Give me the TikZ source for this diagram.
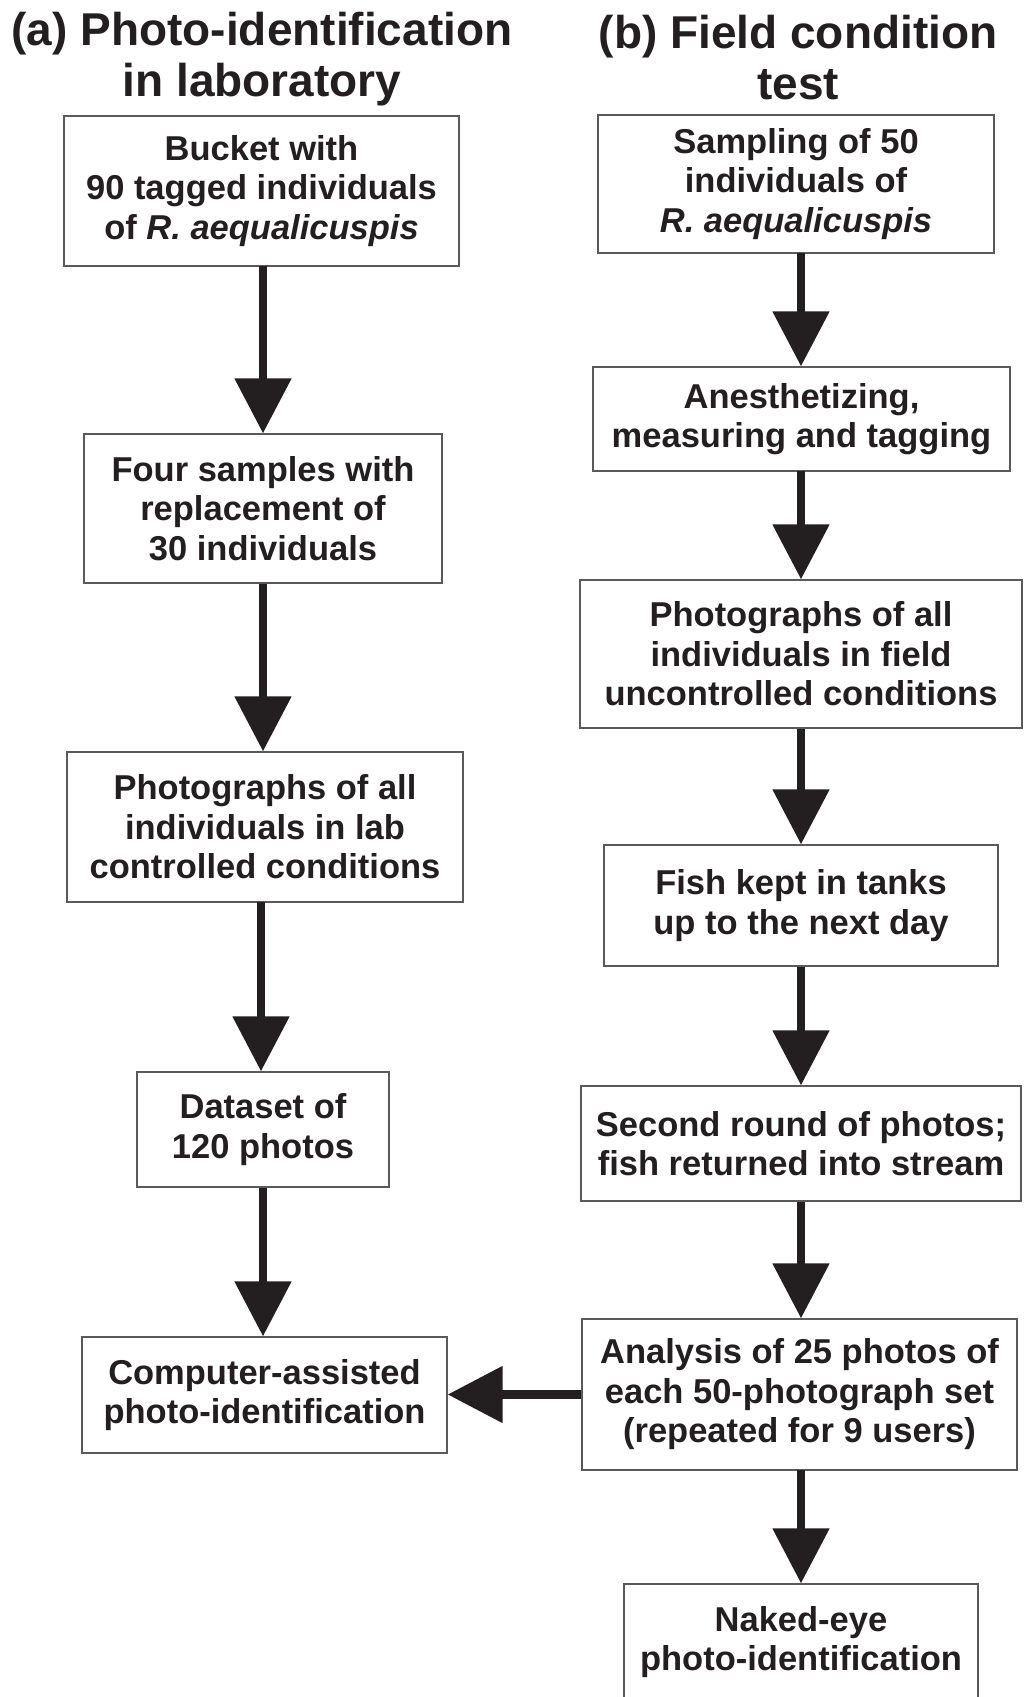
\documentclass[tikz,border=0pt]{standalone}
\usepackage{fontspec}
\setmainfont{Liberation Sans}
\usetikzlibrary{arrows.meta}
\definecolor{ink}{HTML}{231F20}
\definecolor{edge}{HTML}{5A5A5A}
\begin{document}
\begin{tikzpicture}[x=1pt,y=-1pt,
  box/.style={draw=edge, fill=white, line width=1.3pt, inner sep=0pt, align=center, text=ink,
    font=\fontsize{34.5}{39.5}\selectfont\bfseries},
  ttl/.style={inner sep=0pt, align=center, text=ink, font=\fontsize{46}{51}\selectfont\bfseries},
  arr/.style={draw=ink, line width=8.5pt, -{Triangle[width=55pt,length=55pt]}}
]
\useasboundingbox (0,0) rectangle (1025,1697);
\clip (0,0) rectangle (1025,1697);
\fill[white] (0,0) rectangle (1025,1697);

% titles
\node[ttl, anchor=base] (ta) at (262,96) {(a) Photo-identification\\in laboratory};
\node[ttl, anchor=base] (tb) at (798,99) {(b) Field condition\\test};

% left column
\node[box, minimum width=395pt, minimum height=150pt] (b1) at (261.5,191) {Bucket with\\90 tagged individuals\\of \textit{R. aequalicuspis}};
\node[box, minimum width=358pt, minimum height=149pt] (b2) at (263,508.5) {Four samples with\\replacement of\\30 individuals};
\node[box, minimum width=396pt, minimum height=150pt] (b3) at (265,827) {Photographs of all\\individuals in lab\\controlled conditions};
\node[box, minimum width=252pt, minimum height=115pt] (b4) at (263,1129.5) {Dataset of\\120 photos};
\node[box, minimum width=365pt, minimum height=116pt] (b5) at (264.5,1395) {Computer-assisted\\photo-identification};

% right column
\node[box, minimum width=396pt, minimum height=138pt] (r1) at (796,184) {Sampling of 50\\individuals of\\\textit{R. aequalicuspis}};
\node[box, minimum width=417pt, minimum height=104pt] (r2) at (801.5,419) {Anesthetizing,\\measuring and tagging};
\node[box, minimum width=442pt, minimum height=148pt] (r3) at (801,654) {Photographs of all\\individuals in field\\uncontrolled conditions};
\node[box, minimum width=394pt, minimum height=121pt] (r4) at (801,905.5) {Fish kept in tanks\\up to the next day};
\node[box, minimum width=440pt, minimum height=115pt] (r5) at (801,1143.5) {Second round of photos;\\fish returned into stream};
\node[box, minimum width=435pt, minimum height=151pt] (r6) at (799.5,1394.5) {Analysis of 25 photos of\\each 50-photograph set\\(repeated for 9 users)};
\node[box, minimum width=354pt, minimum height=116pt] (r7) at (801,1642) {Naked-eye\\photo-identification};

% connectors
\draw[arr] (263,266) coordinate (a1s) -- (a1s |- b2.north);
\draw[arr] (b2.south) -- (b2.south |- b3.north);
\draw[arr] (261,902) coordinate (a3s) -- (a3s |- b4.north);
\draw[arr] (b4.south) -- (b4.south |- b5.north);

\draw[arr] (801,253) coordinate (c1s) -- (c1s |- r2.north);
\draw[arr] (801,471) coordinate (c2s) -- (c2s |- r3.north);
\draw[arr] (r3.south) -- (r3.south |- r4.north);
\draw[arr] (r4.south) -- (r4.south |- r5.north);
\draw[arr] (r5.south) -- (r5.south |- r6.north);
\draw[arr] (801,1470) coordinate (c6s) -- (c6s |- r7.north);
\draw[arr] (r6.west) -- (r6.west -| b5.east);
\end{tikzpicture}
\end{document}
